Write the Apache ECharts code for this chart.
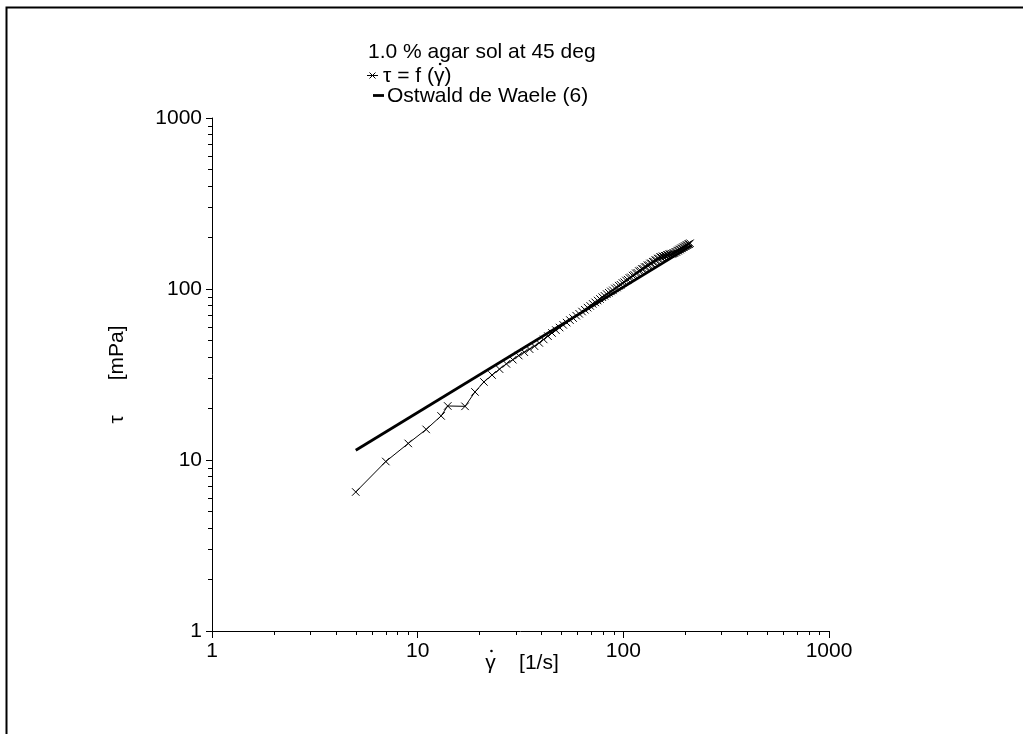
<!DOCTYPE html>
<html>
<head>
<meta charset="utf-8">
<title>1.0 % agar sol at 45 deg</title>
<script src="https://cdn.jsdelivr.net/npm/echarts@6/dist/echarts.min.js"></script>
<style>
  html, body { margin: 0; padding: 0; background: #fff; }
  #chart { width: 1023px; height: 734px; }
</style>
</head>
<body>
<div id="chart"></div>
<script>
// Flow curve of a 1.0 % agar solution at 45 deg: shear rate [1/s] vs shear stress [mPa]
const shearRate = [
  5, 7, 9, 11, 13, 14, 17, 19, 21,
  23, 25, 27, 29, 31, 33, 35, 37, 39, 41, 43, 45, 47, 49, 51, 53, 55, 57, 59, 61,
  63, 65, 67, 69, 71, 73, 75, 77, 79, 81, 83, 85, 87, 89, 91, 93, 95, 97, 99, 101,
  103, 105, 107, 109, 111, 113, 115, 117, 119, 121, 123, 125, 127, 129, 131, 133, 135, 137, 139, 141,
  143, 145, 147, 149, 151, 153, 155, 157, 159, 161, 163, 165, 167, 169, 171, 173, 175, 177, 179, 181,
  183, 185, 187, 189, 191, 193, 195, 197, 199, 201, 203, 205, 207, 209, 211
];
const shearStress = [
  6.5, 9.8, 12.5, 15.1, 18.1, 20.7, 20.6, 25.0, 28.6,
  31.4, 34.0, 36.5, 38.6, 40.8, 42.7, 44.5, 46.3, 48.4, 50.7, 53.0, 55.3, 57.5, 59.5, 61.7, 63.6, 65.8, 67.6, 69.8, 71.6,
  73.8, 75.6, 77.8, 79.6, 81.8, 83.5, 85.6, 87.4, 89.6, 91.2, 93.4, 95.0, 96.8, 98.2, 100.8, 102.0, 104.6, 105.8, 108.4, 109.6,
  112.2, 113.4, 116.0, 117.0, 119.8, 120.8, 123.6, 124.4, 127.3, 128.2, 131.0, 131.4, 134.3, 134.8, 137.6, 138.0, 141.0, 141.2, 144.2, 144.6,
  147.4, 147.6, 150.6, 150.8, 153.8, 153.2, 155.2, 154.8, 156.6, 156.4, 158.2, 158.0, 159.8, 159.6, 161.0, 160.6, 162.2, 162.4, 164.8, 165.0,
  167.6, 167.8, 170.2, 170.3, 172.8, 172.9, 175.4, 175.4, 177.9, 178.0, 180.4, 180.5, 183.0, 183.0, 185.2
];

// Ostwald de Waele (power law) fit, end points
const fitShearRate = [5, 215];
const fitShearStress = [11.4, 180];

// Decade labels and intermediate (minor) tick positions
const decadeTicks = [1, 10, 100, 1000];
const minorTicks = [
  2, 3, 4, 5, 6, 7, 8, 9,
  20, 30, 40, 50, 60, 70, 80, 90,
  200, 300, 400, 500, 600, 700, 800, 900
];

const FONT_FAMILY = "'Liberation Sans', Arial, sans-serif";
const FONT_SIZE = 21;
const FONT = FONT_SIZE + 'px ' + FONT_FAMILY;
const zip = (xs, ys) => xs.map((x, i) => [x, ys[i]]);

// text width helper, used to put the "dot" accent above a gamma
const measureCtx = document.createElement('canvas').getContext('2d');
measureCtx.font = FONT;
const textWidth = (s) => measureCtx.measureText(s).width;

const crossSymbol = 'path://M0,0L10,10M10,0L0,10';

function logAxis(extra) {
  return Object.assign({
    type: 'log',
    logBase: 10,
    min: 1,
    max: 1000,
    splitLine: { show: false },
    axisLine: { show: true, lineStyle: { color: '#000', width: 1 } }
  }, extra);
}

const tickLabel = {
  show: true,
  customValues: decadeTicks,
  color: '#000',
  fontSize: FONT_SIZE,
  fontFamily: FONT_FAMILY,
  formatter: (v) => String(Math.round(v))
};

// x-axis title, drawn as text with a dot over the gamma
const xTitle = 'γ    [1/s]';
const xTitleCenter = 522;
const xTitleLeft = xTitleCenter - textWidth(xTitle) / 2;
const xDotX = xTitleLeft + textWidth('γ') / 2;

// legend rows
const legendX = 368;
const row1Y = 52, row2Y = 76, row3Y = 96;
const row2TextX = 383;
const row2Text = 'τ = f (γ)';
const row2DotX = row2TextX + textWidth('τ = f (') + textWidth('γ') / 2;

const chart = echarts.init(document.getElementById('chart'), null, { renderer: 'canvas' });

chart.setOption({
  animation: false,
  backgroundColor: '#fff',
  grid: { left: 212, right: 194, top: 118, bottom: 103, containLabel: false },
  xAxis: [
    logAxis({
      position: 'bottom',
      axisTick: { show: true, length: 7, inside: false, customValues: decadeTicks, lineStyle: { color: '#000' } },
      axisLabel: Object.assign({ margin: 10 }, tickLabel)
    }),
    logAxis({
      position: 'bottom',
      axisLine: { show: false },
      axisTick: { show: true, length: 4, inside: false, customValues: minorTicks, lineStyle: { color: '#000' } },
      axisLabel: { show: false }
    })
  ],
  yAxis: [
    logAxis({
      position: 'left',
      axisTick: { show: true, length: 6, inside: false, customValues: decadeTicks, lineStyle: { color: '#000' } },
      axisLabel: Object.assign({ margin: 10 }, tickLabel),
      name: 'τ      [mPa]',
      nameLocation: 'middle',
      nameGap: 84,
      nameRotate: 90,
      nameTextStyle: { color: '#000', fontSize: FONT_SIZE, fontFamily: FONT_FAMILY, padding: [0, 0, 0, 0] }
    }),
    logAxis({
      position: 'left',
      axisLine: { show: false },
      axisTick: { show: true, length: 4, inside: false, customValues: minorTicks, lineStyle: { color: '#000' } },
      axisLabel: { show: false }
    })
  ],
  series: [
    {
      name: 'τ = f (γ̇)',
      type: 'line',
      xAxisIndex: 0,
      yAxisIndex: 0,
      data: zip(shearRate, shearStress),
      symbol: crossSymbol,
      symbolSize: 7.5,
      showAllSymbol: true,
      lineStyle: { color: '#000', width: 1 },
      itemStyle: { color: 'rgba(0,0,0,0)', borderColor: '#000', borderWidth: 1 },
      z: 3
    },
    {
      name: 'Ostwald de Waele (6)',
      type: 'line',
      xAxisIndex: 0,
      yAxisIndex: 0,
      data: zip(fitShearRate, fitShearStress),
      symbol: 'none',
      lineStyle: { color: '#000', width: 2.8 },
      z: 2
    }
  ],
  graphic: [
    // frame around the plot
    {
      type: 'polyline',
      shape: { points: [[6.5, 740], [6.5, 7.5], [1030, 7.5]] },
      style: { stroke: '#000', lineWidth: 2, fill: null },
      silent: true
    },
    // x-axis title
    {
      type: 'text', x: xTitleLeft, y: 663,
      style: { text: xTitle, font: FONT, fill: '#000', verticalAlign: 'middle' }
    },
    {
      type: 'circle', shape: { cx: xDotX + 1, cy: 651, r: 1.3 },
      style: { fill: '#000' }
    },
    // legend block
    {
      type: 'text', x: legendX, y: row1Y,
      style: { text: '1.0 % agar sol at 45 deg', font: FONT, fill: '#000', verticalAlign: 'middle' }
    },
    {
      type: 'line', shape: { x1: 367, y1: row2Y - 0.5, x2: 378, y2: row2Y - 0.5 },
      style: { stroke: '#000', lineWidth: 1 }
    },
    {
      type: 'line', shape: { x1: 369.5, y1: row2Y - 3.5, x2: 375.5, y2: row2Y + 2.5 },
      style: { stroke: '#000', lineWidth: 1 }
    },
    {
      type: 'line', shape: { x1: 375.5, y1: row2Y - 3.5, x2: 369.5, y2: row2Y + 2.5 },
      style: { stroke: '#000', lineWidth: 1 }
    },
    {
      type: 'text', x: row2TextX, y: row2Y,
      style: { text: row2Text, font: FONT, fill: '#000', verticalAlign: 'middle' }
    },
    {
      type: 'circle', shape: { cx: row2DotX + 1, cy: row2Y - 12, r: 1.3 },
      style: { fill: '#000' }
    },
    {
      type: 'line', shape: { x1: 373, y1: row3Y - 0.5, x2: 384, y2: row3Y - 0.5 },
      style: { stroke: '#000', lineWidth: 2.8 }
    },
    {
      type: 'text', x: 387, y: row3Y,
      style: { text: 'Ostwald de Waele (6)', font: FONT, fill: '#000', verticalAlign: 'middle' }
    }
  ]
});
</script>
</body>
</html>
